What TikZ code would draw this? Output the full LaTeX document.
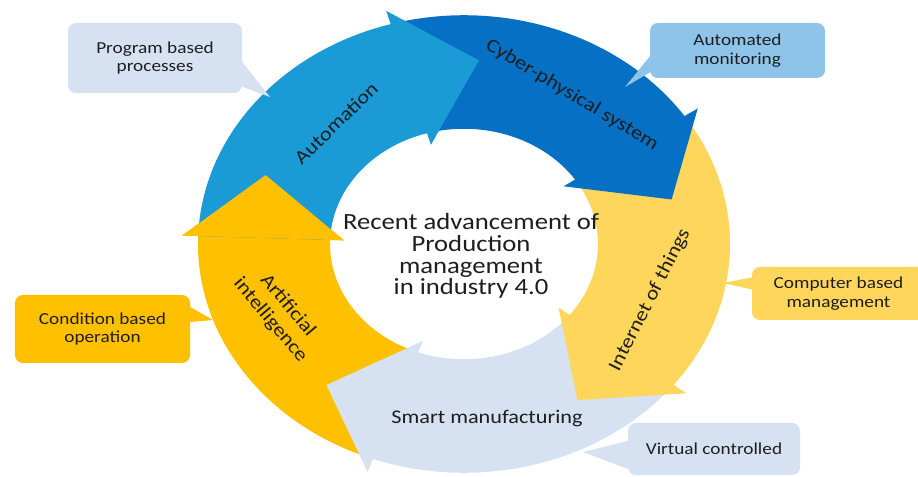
\documentclass[tikz,border=0pt]{standalone}
\usepackage{fontspec}
\setmainfont{Carlito}[FakeStretch=1.15]
\usetikzlibrary{calc}
\definecolor{autoblue}{RGB}{27,155,214}
\definecolor{cyberblue}{RGB}{5,112,196}
\definecolor{iotyellow}{RGB}{255,214,92}
\definecolor{smartgrey}{RGB}{214,226,242}
\definecolor{aigold}{RGB}{255,192,0}
\definecolor{monitorblue}{RGB}{142,196,233}
\definecolor{inktext}{RGB}{30,30,30}
\tikzstyle{bubble}=[rectangle,rounded corners=0.24cm,text=inktext,align=center,inner sep=0pt,font=\fontsize{14.3}{16}\selectfont]
\tikzstyle{ringlabel}=[text=inktext,align=center,font=\fontsize{16.5}{19.5}\selectfont]
\tikzstyle{centre}=[text=inktext,align=center,font=\fontsize{19.8}{18.5}\selectfont]
\newcommand{\ringarrow}[4]{\fill[#1] (#2:134) arc[start angle=#2,end angle=#3,radius=134] -- (#3:120) -- (#4:214) -- (#3:282) -- (#3:266) arc[start angle=#3,end angle=#2,radius=266] -- cycle;}

\begin{document}
\begin{tikzpicture}[x=0.03cm,y=0.03cm]
  \useasboundingbox (0,0) rectangle (918,477);
  \begin{scope}[shift={(464,233)},yscale=0.86]
    \ringarrow{aigold}{-110}{-182}{-202}
    \ringarrow{smartgrey}{-38}{-110}{-130}
    \ringarrow{iotyellow}{34}{-38}{-58}
    \ringarrow{cyberblue}{106}{34}{14}
    \ringarrow{autoblue}{178}{106}{86}
    \fill[aigold] (178:120) -- (158:214) -- (178:282) -- cycle;
  \end{scope}

  \node[ringlabel,rotate=44] (automation) at (336,354) {Automation};
  \node[ringlabel,rotate=-31] (cps) at (572,382) {Cyber-physical system};
  \node[ringlabel,rotate=63] (iot) at (650,177) {Internet of things};
  \node[ringlabel] (smart) at (487,58) {Smart manufacturing};
  \node[ringlabel,rotate=-50] (ai) at (279,164) {Artificial\\intelligence};
  \node[centre] (core) at (471,221) {Recent advancement of\\Production\\management\\in industry 4.0};

  \node[bubble,fill=smartgrey,minimum width=5.22cm,minimum height=2.1cm] (program) at (155,419) {Program based\\processes};
  \coordinate (programtip) at (270,380);
  \fill[smartgrey] ($(program.east)+(0,-4)$) -- (programtip) -- ($(program.east)+(-2,-28)$) -- cycle;

  \node[bubble,fill=monitorblue,minimum width=5.25cm,minimum height=1.65cm] (monitor) at (737.5,426.5) {Automated\\monitoring};
  \coordinate (monitortip) at (625,390);
  \fill[monitorblue] ($(monitor.west)+(0,-6)$) -- (monitortip) -- ($(monitor.west)+(0,-22)$) -- cycle;

  \node[bubble,fill=iotyellow,minimum width=5.19cm,minimum height=1.59cm] (computer) at (838.5,183.5) {Computer based\\management};
  \coordinate (computertip) at (723,194);
  \fill[iotyellow] ($(computer.west)+(0,16)$) -- (computertip) -- ($(computer.west)+(0,4)$) -- cycle;

  \node[bubble,fill=aigold,minimum width=5.25cm,minimum height=2.04cm] (condition) at (102.5,148) {Condition based\\operation};
  \coordinate (conditiontip) at (213,157);
  \fill[aigold] ($(condition.east)+(0,22)$) -- (conditiontip) -- ($(condition.east)+(0,7)$) -- cycle;

  \node[bubble,fill=smartgrey,minimum width=5.16cm,minimum height=1.56cm] (virtual) at (714,28) {Virtual controlled};
  \coordinate (virtualtip) at (583,25);
  \fill[smartgrey] ($(virtual.west)+(0,8)$) -- (virtualtip) -- ($(virtual.west)+(0,-20)$) -- cycle;
\end{tikzpicture}
\end{document}
